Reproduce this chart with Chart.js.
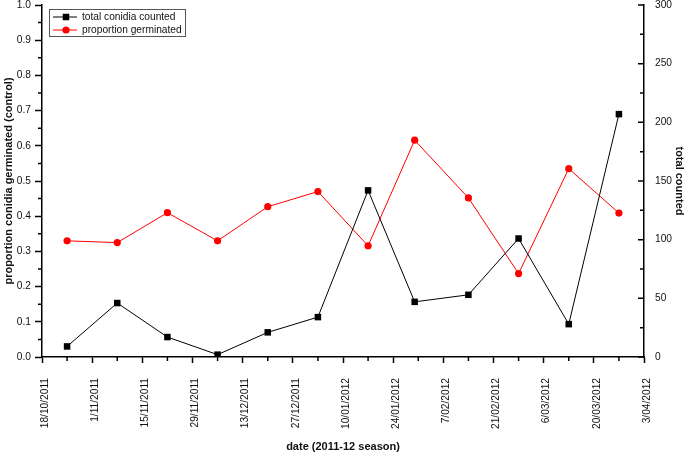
<!DOCTYPE html>
<html>
<head>
<meta charset="utf-8">
<script src="https://cdn.jsdelivr.net/npm/chart.js@4"></script>
<style>
  body { margin: 0; background: #fff; }
  #wrap { width: 685px; height: 455px; }
</style>
</head>
<body>
<div id="wrap"><canvas id="conidiagraph" width="685" height="455"></canvas></div>
<script>
// sampling dates and readings (2011-12 season)
const sampleDates = ['25/10/2011','8/11/2011','22/11/2011','6/12/2011','20/12/2011','3/01/2012',
                     '17/01/2012','30/01/2012','14/02/2012','28/02/2012','13/03/2012','27/03/2012'];
const totalCounted = [9, 46, 17, 2, 21, 34, 142, 47, 53, 101, 28, 207];
const proportionGerminated = [0.33, 0.325, 0.41, 0.33, 0.427, 0.47, 0.316, 0.616, 0.452, 0.237, 0.535, 0.409];
const tickLabels = ['18/10/2011','1/11/2011','15/11/2011','29/11/2011','13/12/2011','27/12/2011','10/01/2012',
                    '24/01/2012','7/02/2012','21/02/2012','6/03/2012','20/03/2012','3/04/2012'];

function toDay(s) {
    const p = s.split('/');
    return Date.UTC(+p[2], +p[1] - 1, +p[0]) / 86400000;
}
const day0 = toDay(tickLabels[0]);
const dayN = toDay(tickLabels[tickLabels.length - 1]);
const xs = sampleDates.map(d => toDay(d) - day0);

Chart.defaults.font.family = '"Liberation Sans", Arial, sans-serif';
Chart.defaults.font.size = 10.2;
Chart.defaults.color = '#111';

// minor ticks + inward ticks on the right axis
const tickPlugin = {
    id: 'ticks2',
    afterDraw(chart) {
        const ctx = chart.ctx;
        const x = chart.scales.x, yl = chart.scales.y, yr = chart.scales.y2;
        ctx.save();
        ctx.strokeStyle = '#000';
        ctx.lineWidth = 1.5;
        ctx.beginPath();
        for (let d = 7; d < dayN - day0; d += 14) {
            const px = x.getPixelForValue(d);
            ctx.moveTo(px, x.top); ctx.lineTo(px, x.top + 4);
        }
        for (let v = 0.05; v < 1; v += 0.1) {
            const py = yl.getPixelForValue(v);
            ctx.moveTo(yl.right - 4, py); ctx.lineTo(yl.right, py);
        }
        for (let v = 0; v <= 300; v += 25) {
            const py = yr.getPixelForValue(v);
            const len = v % 50 === 0 ? 6 : 4;
            ctx.moveTo(yr.left, py); ctx.lineTo(yr.left - len, py);
        }
        ctx.stroke();
        ctx.restore();
    }
};

// legend box inside the plot, top left
const boxLegend = {
    id: 'boxLegend',
    afterDraw(chart) {
        const ctx = chart.ctx;
        const a = chart.chartArea;
        const bx = a.left + 7, by = a.top + 4, bw = 136, bh = 27;
        ctx.save();
        ctx.strokeStyle = '#555';
        ctx.lineWidth = 1;
        ctx.strokeRect(bx + 0.5, by + 0.5, bw, bh);
        ctx.font = '10.2px "Liberation Sans", Arial, sans-serif';
        ctx.textBaseline = 'middle';
        chart.data.datasets.forEach((ds, i) => {
            const cy = by + 8 + i * 13;
            ctx.strokeStyle = ds.borderColor;
            ctx.lineWidth = 1;
            ctx.beginPath();
            ctx.moveTo(bx + 4, cy); ctx.lineTo(bx + 28, cy);
            ctx.stroke();
            ctx.fillStyle = ds.pointBackgroundColor;
            Chart.helpers.drawPoint(ctx, {pointStyle: ds.pointStyle, radius: ds.pointRadius, borderWidth: 0}, bx + 17, cy);
            ctx.fillStyle = '#111';
            ctx.fillText(ds.label, bx + 33, cy);
        });
        ctx.restore();
    }
};

function noPad(s) { s.paddingTop = 0; s.paddingBottom = 0; }

new Chart(document.getElementById('conidiagraph'), {
    type: 'line',
    data: {
        datasets: [
            {
                label: 'total conidia counted',
                data: xs.map((d, i) => ({x: d, y: totalCounted[i]})),
                yAxisID: 'y2',
                borderColor: '#000',
                borderWidth: 1,
                pointStyle: 'rect',
                pointRadius: 4.6,
                pointBackgroundColor: '#000',
                pointBorderColor: '#000',
                pointBorderWidth: 0
            },
            {
                label: 'proportion germinated',
                data: xs.map((d, i) => ({x: d, y: proportionGerminated[i]})),
                yAxisID: 'y',
                borderColor: '#ff0000',
                borderWidth: 1,
                pointStyle: 'circle',
                pointRadius: 3.6,
                pointBackgroundColor: '#ff0000',
                pointBorderColor: '#ff0000',
                pointBorderWidth: 0
            }
        ]
    },
    options: {
        responsive: false,
        animation: false,
        layout: {padding: {top: 5, left: 0, right: 0, bottom: 0}},
        plugins: {legend: {display: false}, tooltip: {enabled: false}},
        scales: {
            x: {
                type: 'linear',
                min: 0,
                max: dayN - day0,
                border: {display: true, color: '#000', width: 1.5},
                grid: {
                    drawOnChartArea: false, tickLength: 6, tickWidth: 1.5,
                    tickColor: c => (c.tick && c.tick.value % 14 === 0) ? '#000' : 'rgba(0,0,0,0)'
                },
                ticks: {
                    stepSize: 7, autoSkip: false, maxRotation: 90, minRotation: 90, padding: 15,
                    labelOffset: 3, color: '#111',
                    callback: v => v % 14 === 0 ? tickLabels[v / 14] : ''
                },
                title: {display: true, text: 'date (2011-12 season)', font: {weight: 'bold', size: 11}, padding: {top: 0, bottom: 1}, color: '#111'},
                afterFit: s => { s.height = 98; }
            },
            y: {
                position: 'left',
                min: 0, max: 1,
                border: {display: true, color: '#000', width: 1.5},
                grid: {drawOnChartArea: false, tickLength: 7, tickWidth: 1.5, tickColor: '#000'},
                ticks: {stepSize: 0.1, padding: 4, color: '#111', callback: v => v.toFixed(1)},
                title: {display: true, text: 'proportion conidia germinated (control)', font: {weight: 'bold', size: 11}, padding: {top: 2, bottom: 0}, color: '#111'},
                afterFit: s => { s.width = 42; noPad(s); }
            },
            y2: {
                position: 'right',
                min: 0, max: 300,
                border: {display: true, color: '#000', width: 1.5},
                grid: {drawOnChartArea: false, drawTicks: false},
                ticks: {stepSize: 50, padding: 11, color: '#111'},
                title: {display: true, text: 'total counted', font: {weight: 'bold', size: 11, lineHeight: 1}, padding: {top: 0, bottom: 0}, color: '#111'},
                afterFit: s => { s.width = 41; noPad(s); }
            }
        }
    },
    plugins: [tickPlugin, boxLegend]
});
</script>
</body>
</html>
